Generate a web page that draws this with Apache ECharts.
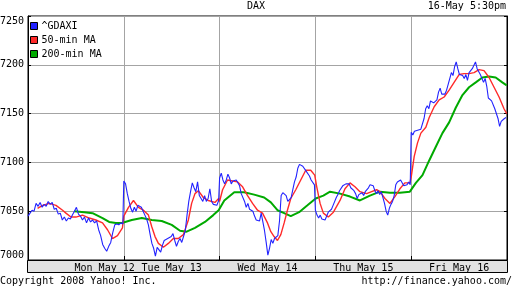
<!DOCTYPE html>
<html><head><meta charset="utf-8">
<script src="https://cdn.jsdelivr.net/npm/echarts@6/dist/echarts.min.js"></script>
<style>html,body{margin:0;padding:0;background:#fff}#c{width:512px;height:288px}</style>
</head><body><div id="c"></div>
<script>
const chartTitle = 'DAX';
const stamp = '16-May 5:30pm';
const footLeft = 'Copyright 2008 Yahoo! Inc.';
const footRight = 'http://finance.yahoo.com/';
const seriesNames = ['^GDAXI', '50-min MA', '200-min MA'];
const dayLabels = ['Mon May 12', 'Tue May 13', 'Wed May 14', 'Thu May 15', 'Fri May 16'];
const dayLabelAt = [0.8, 1.5, 2.5, 3.5, 4.5];
const yMin = 7000, yMax = 7250, yStep = 50;

// ^GDAXI intraday values, one array per trading day (evenly spaced through the session)
const gdaxiMon = [7045,7048,7051,7050,7058,7055,7059,7054,7057,7055,7060,7057,7059,7052,7053,7047,7048,7041,7044,7040,7043,7042,7046,7050,7054,7047,7045,7041,7044,7038,7043,7039,7041,7038,7040,7031,7025,7016,7012,7009,7014,7018,7028,7036,7037,7036,7038,7037];
const gdaxiTue = [7081,7078,7068,7060,7053,7049,7054,7050,7056,7057,7054,7050,7046,7042,7036,7026,7017,7012,7004,7013,7012,7008,7015,7020,7018,7022,7020,7024,7027,7020,7014,7019,7022,7018,7020,7030,7046,7060,7070,7079,7074,7070,7080,7066,7064,7060,7066,7060,7063,7073,7060,7057,7059,7056,7061];
const gdaxiWed = [7084,7089,7082,7078,7082,7088,7084,7078,7081,7079,7082,7080,7076,7068,7066,7060,7054,7058,7052,7054,7050,7045,7041,7043,7040,7048,7047,7030,7018,7005,7012,7021,7017,7022,7020,7025,7040,7066,7069,7068,7066,7060,7058,7064,7072,7080,7085,7094,7098,7099,7096,7094,7091,7092,7086,7082,7080,7077];
const gdaxiThu = [7051,7046,7043,7046,7042,7044,7041,7043,7049,7048,7052,7056,7054,7064,7067,7071,7070,7076,7074,7078,7076,7078,7074,7075,7071,7068,7063,7067,7066,7069,7066,7070,7068,7074,7077,7079,7076,7071,7068,7071,7067,7070,7064,7058,7050,7046,7053,7057,7060,7066,7077,7080,7078,7082,7080,7076,7078,7077,7080,7077];
const gdaxiFri = [7131,7128,7132,7130,7133,7131,7134,7133,7145,7155,7158,7155,7163,7165,7161,7163,7164,7172,7176,7170,7172,7170,7174,7180,7178,7192,7189,7198,7203,7196,7190,7192,7189,7186,7190,7184,7192,7191,7196,7198,7203,7196,7194,7190,7192,7182,7186,7178,7166,7168,7163,7162,7155,7157,7145,7137,7142,7141,7145,7146];

// moving averages: [time in trading days since Monday open, value]
const ma50 = [[0.10,7053],[0.153,7056],[0.222,7058],[0.292,7056],[0.361,7051],[0.396,7048],[0.448,7044],[0.5,7044],[0.569,7046],[0.639,7043],[0.708,7041],[0.778,7038],[0.83,7031],[0.882,7022],[0.934,7025],[0.986,7033],
 [1.0,7045],[1.049,7054],[1.101,7061],[1.153,7054],[1.205,7051],[1.257,7046],[1.292,7034],[1.326,7024],[1.361,7017],[1.413,7013],[1.465,7017],[1.517,7022],[1.569,7022],[1.622,7026],[1.674,7041],[1.708,7058],[1.743,7068],[1.778,7071],[1.83,7064],[1.882,7061],[1.951,7059],[1.99,7063],
 [2.0,7060],[2.031,7072],[2.083,7082],[2.135,7081],[2.188,7080],[2.24,7075],[2.292,7066],[2.344,7058],[2.396,7051],[2.448,7048],[2.5,7038],[2.535,7029],[2.569,7024],[2.604,7020],[2.639,7026],[2.674,7038],[2.708,7051],[2.743,7063],[2.795,7072],[2.847,7082],[2.899,7092],[2.951,7092],[2.993,7087],
 [3.0,7085],[3.014,7075],[3.049,7058],[3.083,7048],[3.135,7044],[3.188,7049],[3.257,7061],[3.309,7073],[3.361,7079],[3.413,7075],[3.465,7070],[3.535,7068],[3.587,7070],[3.639,7072],[3.674,7070],[3.726,7063],[3.778,7058],[3.83,7065],[3.882,7073],[3.934,7079],[3.986,7079],
 [4.0,7085],[4.031,7106],[4.066,7120],[4.101,7130],[4.153,7136],[4.188,7146],[4.24,7157],[4.292,7164],[4.344,7167],[4.396,7174],[4.448,7182],[4.5,7190],[4.552,7191],[4.604,7191],[4.656,7192],[4.708,7195],[4.76,7194],[4.813,7187],[4.865,7177],[4.917,7167],[4.969,7155],[4.997,7150]];
const ma200 = [[0.483,7050],[0.587,7049],[0.674,7048],[0.778,7043],[0.847,7039],[0.917,7038],[0.986,7038],
 [1.014,7039],[1.083,7041],[1.188,7043],[1.292,7041],[1.396,7040],[1.5,7036],[1.587,7030],[1.656,7029],[1.743,7033],[1.847,7039],[1.934,7046],[1.99,7051],
 [2.049,7061],[2.153,7069.5],[2.257,7069.5],[2.361,7067],[2.465,7064],[2.535,7059],[2.604,7051],[2.674,7048],[2.743,7045],[2.83,7049],[2.917,7056],[3.003,7063],
 [3.083,7066],[3.153,7070],[3.257,7068],[3.361,7065],[3.465,7061],[3.569,7066],[3.674,7070],[3.778,7069],[3.882,7069],[3.986,7070],
 [4.0,7071],[4.049,7079],[4.118,7087],[4.188,7102],[4.257,7116],[4.326,7130],[4.396,7141],[4.465,7156],[4.535,7169],[4.604,7177],[4.674,7182],[4.743,7187],[4.813,7188],[4.882,7187],[4.951,7182],[4.997,7179]];

const gdaxiDays = [gdaxiMon, gdaxiTue, gdaxiWed, gdaxiThu, gdaxiFri];
const gdaxi = [];
gdaxiDays.forEach((arr, d) => arr.forEach((v, i) => gdaxi.push([d + i / (arr.length - 1) * 0.99, v])));

const FONT = 'DejaVu Sans Mono';
const txt = { fontFamily: FONT, fontSize: 10, color: '#000', fontWeight: 'normal' };
const chart = echarts.init(document.getElementById('c'), null, { renderer: 'canvas' });
chart.setOption({
  animation: false,
  backgroundColor: '#fff',
  title: [
    { text: chartTitle, left: 'center', top: 1, padding: 0, textStyle: txt },
    { text: stamp, right: 6, top: 1, padding: 0, textStyle: txt },
    { text: footLeft, left: 0, bottom: 2, padding: 0, textStyle: txt },
    { text: footRight, right: 0, bottom: 2, padding: 0, textStyle: txt }
  ],
  legend: {
    orient: 'vertical', left: 30, top: 21, padding: 0,
    itemWidth: 7, itemHeight: 7, itemGap: 4, icon: 'rect',
    itemStyle: { borderColor: '#000', borderWidth: 1 },
    textStyle: Object.assign({}, txt, { padding: [0, 0, 0, -1] }),
    data: seriesNames
  },
  grid: { left: 28, right: 5, top: 16, bottom: 28, outerBoundsMode: 'none', containLabel: false,
    show: true, borderColor: '#000', borderWidth: 1, backgroundColor: '#fff' },
  graphic: [{
    type: 'rect', z: -10, silent: true,
    shape: { x: 27.5, y: 260.5, width: 480, height: 12 },
    style: { fill: '#e2e2e2', stroke: '#000', lineWidth: 1 }
  }],
  xAxis: {
    type: 'value', min: 0, max: 5, interval: 1,
    axisLine: { show: true, lineStyle: { color: '#000', width: 1 } },
    axisTick: { show: true, inside: true, length: 4, lineStyle: { color: '#000' } },
    splitLine: { show: true, lineStyle: { color: '#a4a4a4', width: 1 } },
    axisLabel: {
      customValues: dayLabelAt, margin: 3, fontFamily: FONT, fontSize: 10, color: '#000',
      formatter: v => dayLabels[dayLabelAt.indexOf(v)] || ''
    }
  },
  yAxis: [{
    type: 'value', min: yMin, max: yMax, interval: yStep, position: 'left',
    axisLine: { show: true, lineStyle: { color: '#000', width: 1 } },
    axisTick: { show: true, inside: true, length: 3, lineStyle: { color: '#000' } },
    splitLine: { show: true, lineStyle: { color: '#a4a4a4', width: 1 } },
    axisLabel: { margin: 4, fontFamily: FONT, fontSize: 10, color: '#000',
      formatter: v => String(v),
      verticalAlignMaxLabel: 'top', verticalAlignMinLabel: 'bottom' }
  }, {
    type: 'value', min: yMin, max: yMax, interval: yStep, position: 'right',
    axisLine: { show: true, lineStyle: { color: '#000', width: 1 } },
    axisTick: { show: true, inside: true, length: 3, lineStyle: { color: '#000' } },
    splitLine: { show: false }, axisLabel: { show: false }
  }],
  series: [
    { name: seriesNames[0], type: 'line', data: gdaxi, showSymbol: false, symbol: 'none', color: '#2222ff', lineStyle: { width: 1.1, color: '#2222ff' }, z: 5 },
    { name: seriesNames[1], type: 'line', data: ma50, showSymbol: false, symbol: 'none', color: '#ff2a2a', lineStyle: { width: 1.4, color: '#ff2a2a' }, z: 4 },
    { name: seriesNames[2], type: 'line', data: ma200, showSymbol: false, symbol: 'none', color: '#00aa00', lineStyle: { width: 2, color: '#00aa00' }, z: 3 }
  ]
});
</script></body></html>
